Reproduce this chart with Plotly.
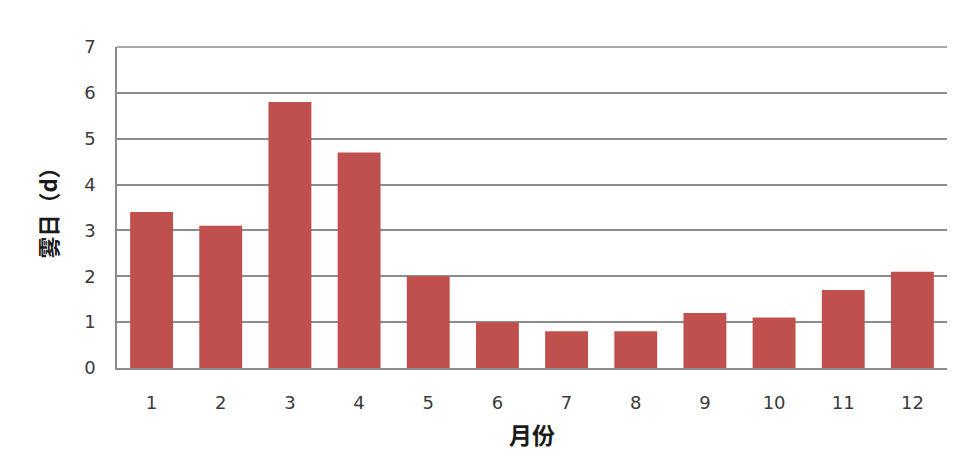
import plotly.graph_objects as go

months = ["1", "2", "3", "4", "5", "6", "7", "8", "9", "10", "11", "12"]
fog_days = [3.4, 3.1, 5.8, 4.7, 2.0, 1.0, 0.8, 0.8, 1.2, 1.1, 1.7, 2.1]
y_ticks = [0, 1, 2, 3, 4, 5, 6, 7]

fig = go.Figure(go.Bar(x=months, y=fog_days, marker=dict(color="#C0504D", line=dict(width=0))))

fig.update_layout(
    width=954, height=461,
    margin=dict(l=117, r=7, t=47, b=93),
    paper_bgcolor="white", plot_bgcolor="white",
    bargap=0.38,
    showlegend=False,
    font=dict(family="DejaVu Sans, Noto Sans CJK SC", color="#3a3a3a", size=18),
    shapes=[dict(type="line", xref="paper", yref="paper", x0=0, x1=1, y0=1, y1=1,
                 line=dict(color="#8c8c8c", width=1.5), layer="below")],
)
fig.update_xaxes(
    type="category", showgrid=False, ticks="", ticklabelstandoff=18,
    showline=True, linecolor="#8c8c8c", linewidth=1.5,
    title=dict(text="<b>月份</b>", font=dict(family="Noto Sans CJK SC", size=23, color="#1a1a1a"), standoff=16),
)
fig.update_yaxes(
    range=[0, 7], tickvals=y_ticks, showgrid=True, gridcolor="#8c8c8c", gridwidth=1.5,
    showline=True, linecolor="#8c8c8c", linewidth=1.5, zeroline=False, ticks="", ticklabelstandoff=16,
    title=dict(text="<b>雾日（d）</b>", font=dict(family="Noto Sans CJK SC", size=22, color="#1a1a1a"), standoff=20),
)

fig.write_html("out.html")
